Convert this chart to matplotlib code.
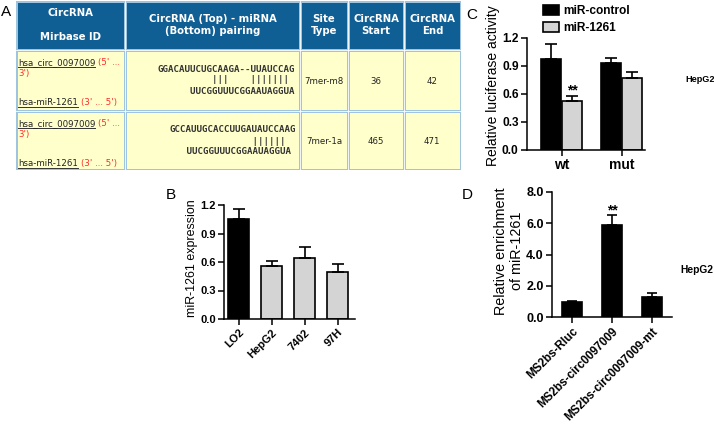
import numpy as np
import matplotlib
matplotlib.use("Agg")
import matplotlib.pyplot as plt
from matplotlib.patches import Rectangle

W, H = 714, 426

# ---- panel A table
tab_header = ["CircRNA\n\nMirbase ID", "CircRNA (Top) - miRNA\n(Bottom) pairing",
              "Site\nType", "CircRNA\nStart", "CircRNA\nEnd"]
tab_circ = ["hsa_circ_0097009", "hsa_circ_0097009"]
tab_mir = ["hsa-miR-1261", "hsa-miR-1261"]
tab_top = ["GGACAUUCUGCAAGA--UUAUCCAG", "GCCAUUGCACCUUGAUAUCCAAG"]
tab_pair = ["          |||    ||||||| ", "               ||||||  "]
tab_bottom = ["      UUCGGUUUCGGAAUAGGUA", "   UUCGGUUUCGGAAUAGGUA"]
tab_site = ["7mer-m8", "7mer-1a"]
tab_start = [36, 465]
tab_end = [42, 471]

# ---- panel B
b_cells = ["LO2", "HepG2", "7402", "97H"]
b_expr = [1.05, 0.56, 0.64, 0.50]
b_err = [0.11, 0.05, 0.12, 0.08]

# ---- panel C
c_groups = ["wt", "mut"]
c_control = [0.97, 0.93]
c_control_err = [0.17, 0.06]
c_mir = [0.53, 0.77]
c_mir_err = [0.05, 0.07]

# ---- panel D
d_groups = ["MS2bs-Rluc", "MS2bs-circ0097009", "MS2bs-circ0097009-mt"]
d_enrich = [0.95, 5.9, 1.28]
d_err = [0.08, 0.6, 0.28]

GRAY = "#d4d4d4"
plt.rcParams["font.family"] = ["Liberation Sans", "DejaVu Sans"]

fig = plt.figure(figsize=(W / 100, H / 100), dpi=100)

def px_axes(l, t, r, b):
    return fig.add_axes([l / W, 1 - b / H, (r - l) / W, (b - t) / H])

def style(ax, yticks, ylabels, fs):
    for s in ["top", "right"]:
        ax.spines[s].set_visible(False)
    for s in ["left", "bottom"]:
        ax.spines[s].set_linewidth(1.1)
    ax.tick_params(direction="out", length=4.5, width=1.1, pad=1.5)
    ax.set_yticks(yticks, ylabels, fontsize=fs, fontweight="bold")

# overlay for table + free text
ov = fig.add_axes([0, 0, 1, 1])
ov.set_xlim(0, W)
ov.set_ylim(H, 0)
ov.axis("off")

tf = "DejaVu Sans"
cols = [16, 125, 300, 348, 404, 461]
rows = [1, 50, 111, 170]
ov.add_patch(Rectangle((cols[0], rows[0]), cols[-1] - cols[0], rows[-1] - rows[0],
                       facecolor="#9fc4e0", edgecolor="none"))
for i in range(3):
    for j in range(5):
        fc = "#0f5e94" if i == 0 else "#ffffcc"
        ov.add_patch(Rectangle((cols[j] + 1.5, rows[i] + 1.5), cols[j + 1] - cols[j] - 3,
                               rows[i + 1] - rows[i] - 3, facecolor=fc, edgecolor="none"))
for x in cols[1:-1]:
    ov.plot([x, x], [rows[0], rows[-1]], color="white", lw=0.6)
for y in rows[1:-1]:
    ov.plot([cols[0], cols[-1]], [y, y], color="white", lw=0.6)

for j, h in enumerate(tab_header):
    cx = (cols[j] + cols[j + 1]) / 2
    ov.text(cx, 25, h, ha="center", va="center", color="white", fontsize=7.3,
            fontweight="bold", family=tf, linespacing=1.25 if j == 0 else 1.35)

fig.canvas.draw()
rend = fig.canvas.get_renderer()

def underline(t, ybase):
    bb = t.get_window_extent(rend)
    x0 = ov.transData.inverted().transform((bb.x0, 0))[0]
    x1 = ov.transData.inverted().transform((bb.x1, 0))[0]
    ov.plot([x0, x1], [ybase + 1.6, ybase + 1.6], color="#333333", lw=0.7)
    return x1

red = "#ff2a2a"
for i in range(2):
    r0 = rows[i + 1]
    t = ov.text(18, r0 + 15, tab_circ[i], fontsize=6.2, family=tf, color="#222222", va="baseline")
    x1 = underline(t, r0 + 15)
    ov.text(x1 + 3, r0 + 15, "(5' ...", fontsize=6.2, family=tf, color=red, va="baseline")
    ov.text(18, r0 + 26, "3')", fontsize=6.2, family=tf, color=red, va="baseline")
    t = ov.text(18, r0 + 55, tab_mir[i], fontsize=6.2, family=tf, color="#222222", va="baseline")
    x1 = underline(t, r0 + 55)
    ov.text(x1 + 3, r0 + 55, "(3' ... 5')", fontsize=6.2, family=tf, color=red, va="baseline")

    xs = 157 if i == 0 else 170
    for k, line in enumerate([tab_top[i], tab_pair[i], tab_bottom[i]]):
        ov.text(xs, r0 + 19 + 11 * k, line, fontsize=6.6, family="DejaVu Sans Mono",
                fontweight="bold", color="#333333", ha="left", va="center")
    ym = r0 + 31
    ov.text(324, ym, tab_site[i], fontsize=6.2, family=tf, ha="center", va="center", color="#222222")
    ov.text(376, ym, str(tab_start[i]), fontsize=6.2, family=tf, ha="center", va="center", color="#222222")
    ov.text(432, ym, str(tab_end[i]), fontsize=6.2, family=tf, ha="center", va="center", color="#222222")

# panel letters
for lab, x, y in [("A", 1, 12), ("B", 166, 195), ("C", 466, 15), ("D", 462, 195)]:
    ov.text(x, y, lab, fontsize=11, ha="left", va="center")

# ---- B
ax_b = px_axes(224, 205, 355, 319)
xb = np.arange(len(b_cells))
ax_b.bar(xb, b_expr, width=0.64, color=["black"] + [GRAY] * 3, edgecolor="black", linewidth=1.2)
ax_b.errorbar(xb, b_expr, yerr=[np.zeros(len(xb)), b_err], fmt="none", ecolor="black",
              elinewidth=1.2, capsize=4, capthick=1.2)
ax_b.set_xlim(-0.44, 3.53)
ax_b.set_ylim(0, 1.2)
style(ax_b, [0, 0.3, 0.6, 0.9, 1.2], ["0.0", "0.3", "0.6", "0.9", "1.2"], 8)
ax_b.set_xticks(xb, b_cells, rotation=45, ha="right", rotation_mode="anchor",
                fontsize=8, fontweight="bold")
ov.text(192, 258, "miR-1261 expression", rotation=90, ha="center", va="center", fontsize=8.9)

# ---- C
ax_c = px_axes(527, 38, 645, 150)
xc = np.arange(len(c_groups))
off, bw = 0.175, 0.333
ax_c.bar(xc - off, c_control, width=bw, color="black", edgecolor="black", linewidth=1.2,
         label="miR-control")
ax_c.bar(xc + off, c_mir, width=bw, color=GRAY, edgecolor="black", linewidth=1.2,
         label="miR-1261")
ax_c.errorbar(xc - off, c_control, yerr=[np.zeros(2), c_control_err], fmt="none",
              ecolor="black", elinewidth=1.2, capsize=4.5, capthick=1.2)
ax_c.errorbar(xc + off, c_mir, yerr=[np.zeros(2), c_mir_err], fmt="none",
              ecolor="black", elinewidth=1.2, capsize=4.5, capthick=1.2)
ax_c.text(off, c_mir[0] + c_mir_err[0] - 0.02, "**", ha="center", va="bottom",
          fontsize=10, fontweight="bold")
ax_c.set_xlim(-0.575, 1.39)
ax_c.set_ylim(0, 1.2)
style(ax_c, [0, 0.3, 0.6, 0.9, 1.2], ["0.0", "0.3", "0.6", "0.9", "1.2"], 8.6)
ax_c.set_xticks(xc, c_groups, fontsize=10, fontweight="bold")
ax_c.legend(loc="upper left", bbox_to_anchor=(543 / W, 1 - 5 / H), bbox_transform=fig.transFigure,
            frameon=False, borderpad=0, borderaxespad=0, handlelength=1.35, handleheight=0.85,
            handletextpad=0.35, labelspacing=0.45, prop={"size": 8.6, "weight": "bold"})
ov.text(493, 86, "Relative luciferase activity", rotation=90, ha="center", va="center", fontsize=10)
ov.text(685, 80, "HepG2", fontsize=6.6, fontweight="bold", va="center")

# ---- D
ax_d = px_axes(552, 192, 672, 317)
xd = np.arange(len(d_groups))
ax_d.bar(xd, d_enrich, width=0.5, color="black", edgecolor="black", linewidth=1.2)
ax_d.errorbar(xd, d_enrich, yerr=[np.zeros(len(xd)), d_err], fmt="none", ecolor="black",
              elinewidth=1.2, capsize=3.6, capthick=1.2)
ax_d.text(1, d_enrich[1] + d_err[1] - 0.15, "**", ha="center", va="bottom",
          fontsize=10, fontweight="bold")
ax_d.set_xlim(-0.5, 2.5)
ax_d.set_ylim(0, 8)
style(ax_d, [0, 2, 4, 6, 8], ["0.0", "2.0", "4.0", "6.0", "8.0"], 9)
ax_d.set_xticks(xd, d_groups, rotation=45, ha="right", rotation_mode="anchor",
                fontsize=8.4, fontweight="bold")
ov.text(509, 251, "Relative enrichment\nof miR-1261", rotation=90, ha="center", va="center",
        fontsize=10.4, linespacing=1.1)
ov.text(680, 270, "HepG2", fontsize=7.4, fontweight="bold", va="center")

fig.savefig("out.png", dpi=100)
